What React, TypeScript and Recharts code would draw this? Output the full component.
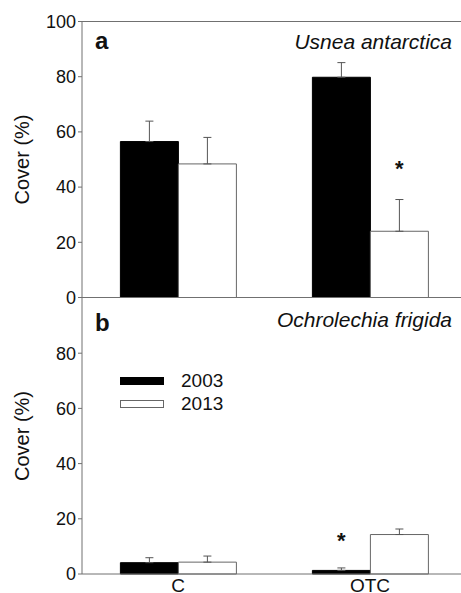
import { BarChart, Bar, XAxis, YAxis, ErrorBar, ReferenceLine, Legend, LabelList } from "recharts";

const categories = ["C", "OTC"];

// panel a: Usnea antarctica
const usnea2003    = [56.5, 79.8];
const usnea2003Err = [7.4, 5.3];
const usnea2013    = [48.4, 24.0];
const usnea2013Err = [9.6, 11.5];
const usneaSig2003 = ["", ""];
const usneaSig2013 = ["", "*"];

// panel b: Ochrolechia frigida
const ochro2003    = [4.1, 1.3];
const ochro2003Err = [1.8, 0.9];
const ochro2013    = [4.3, 14.3];
const ochro2013Err = [2.2, 2.0];
const ochroSig2003 = ["", "*"];
const ochroSig2013 = ["", ""];

const topTicks    = [0, 20, 40, 60, 80, 100];
const bottomTicks = [0, 20, 40, 60, 80];

const FONT = "'Liberation Sans', Arial, Helvetica, sans-serif";
const AXIS = "#707070";
const INK  = "#111";

function buildRows(
  v03: number[], e03: number[], v13: number[], e13: number[],
) {
  return categories.map((cat, i) => ({
    cat,
    y2003: v03[i],
    y2013: v13[i],
    e2003: [0, e03[i]],
    e2013: [0, e13[i]],
  }));
}

const topRows    = buildRows(usnea2003, usnea2003Err, usnea2013, usnea2013Err);
const bottomRows = buildRows(ochro2003, ochro2003Err, ochro2013, ochro2013Err);

function YLabel(props: any) {
  const vb = props.viewBox || {};
  const cx = 22;
  const cy = (vb.y ?? 0) + (vb.height ?? 0) / 2;
  return (
    <text x={cx} y={cy} transform={`rotate(-90 ${cx} ${cy})`}
      textAnchor="middle" dominantBaseline="central" fontSize={20} fill={INK}>
      Cover (%)
    </text>
  );
}

// asterisk above the error whisker of a flagged bar
function star(vals: number[], errs: number[], sig: string[], gap: number) {
  return (p: any) => {
    const i = p.index;
    if (i == null || !sig[i]) return null;
    const vb = p.viewBox || p;
    const unit = vb.height / vals[i];
    const whiskerTop = vb.y - errs[i] * unit;
    const cx = vb.x + vb.width / 2;
    return (
      <text key={`star-${i}`} x={cx} y={whiskerTop - gap + 12.5}
        textAnchor="middle" fontSize={22} fontWeight="bold" fill={INK}>
        *
      </text>
    );
  };
}

function LegendBox(props: any) {
  const items = props.payload || [];
  return (
    <div style={{ fontFamily: FONT }}>
      {items.map((e: any, i: number) => (
        <div key={e.value} style={{ display: "flex", alignItems: "center", height: 23 }}>
          <span style={{
            display: "inline-block", width: 44, height: 8, boxSizing: "border-box",
            background: i === 0 ? "#000" : "#fff",
            border: i === 0 ? "1px solid #000" : "1px solid #666",
          }} />
          <span style={{ marginLeft: 17, fontSize: 19, color: INK }}>{e.value}</span>
        </div>
      ))}
    </div>
  );
}

export default function App() {
  return (
    <div style={{
      position: "absolute", left: 0, top: 0, width: 461, height: 593,
      overflow: "hidden", background: "#fff", fontFamily: FONT,
    }}>
      {/* panel b */}
      <div style={{ position: "absolute", left: 0, top: 297.5 }}>
        <BarChart width={466} height={316} data={bottomRows}
          margin={{ top: 0, right: 0, bottom: 0, left: 0 }}
          barCategoryGap="20%" barGap={0}>
          <XAxis dataKey="cat" tickLine={false} tickSize={4} tickMargin={1} height={40}
            stroke={AXIS} tick={{ fontSize: 19, fill: INK }} />
          <YAxis width={82} domain={[0, 100]} ticks={bottomTicks} tickSize={4} interval={0}
            stroke={AXIS} tick={{ fontSize: 18, fill: INK }} label={<YLabel />} />
          <Legend layout="vertical" align="center" verticalAlign="middle"
            content={<LegendBox />}
            wrapperStyle={{ left: 120, top: 72, right: "auto", bottom: "auto", width: "auto", height: "auto" }} />
          <Bar dataKey="y2003" name="2003" fill="#000" stroke="#000" isAnimationActive={false}>
            <ErrorBar dataKey="e2003" width={4} stroke="#555" strokeWidth={1} />
            <LabelList dataKey="y2003" content={star(ochro2003, ochro2003Err, ochroSig2003, 32)} />
          </Bar>
          <Bar dataKey="y2013" name="2013" fill="#fff" stroke="#666" isAnimationActive={false}>
            <ErrorBar dataKey="e2013" width={4} stroke="#555" strokeWidth={1} />
            <LabelList dataKey="y2013" content={star(ochro2013, ochro2013Err, ochroSig2013, 32)} />
          </Bar>
        </BarChart>
      </div>

      {/* panel a */}
      <div style={{ position: "absolute", left: 0, top: 0 }}>
        <BarChart width={466} height={330} data={topRows}
          margin={{ top: 21.5, right: 0, bottom: 2.5, left: 0 }}
          barCategoryGap="20%" barGap={0}>
          <XAxis dataKey="cat" tick={false} tickLine={false} height={30} stroke={AXIS} />
          <YAxis width={82} domain={[0, 100]} ticks={topTicks} tickSize={4} interval={0}
            stroke={AXIS} tick={{ fontSize: 18, fill: INK }} label={<YLabel />} />
          <ReferenceLine y={100} stroke={AXIS} />
          <Bar dataKey="y2003" name="2003" fill="#000" stroke="#000" isAnimationActive={false}>
            <ErrorBar dataKey="e2003" width={4} stroke="#555" strokeWidth={1} />
            <LabelList dataKey="y2003" content={star(usnea2003, usnea2003Err, usneaSig2003, 36)} />
          </Bar>
          <Bar dataKey="y2013" name="2013" fill="#fff" stroke="#666" isAnimationActive={false}>
            <ErrorBar dataKey="e2013" width={4} stroke="#555" strokeWidth={1} />
            <LabelList dataKey="y2013" content={star(usnea2013, usnea2013Err, usneaSig2013, 36)} />
          </Bar>
        </BarChart>
      </div>

      {/* panel letters and species names */}
      <svg width={461} height={593} style={{ position: "absolute", left: 0, top: 0, pointerEvents: "none" }}>
        <text x={95} y={49.3} fontSize={24} fontWeight="bold" fill={INK}>a</text>
        <text x={452} y={49} fontSize={21} fontStyle="italic" textAnchor="end" fill={INK}>Usnea antarctica</text>
        <text x={95} y={330.7} fontSize={24} fontWeight="bold" fill={INK}>b</text>
        <text x={452} y={326.7} fontSize={21} fontStyle="italic" textAnchor="end" fill={INK}>Ochrolechia frigida</text>
      </svg>
    </div>
  );
}
